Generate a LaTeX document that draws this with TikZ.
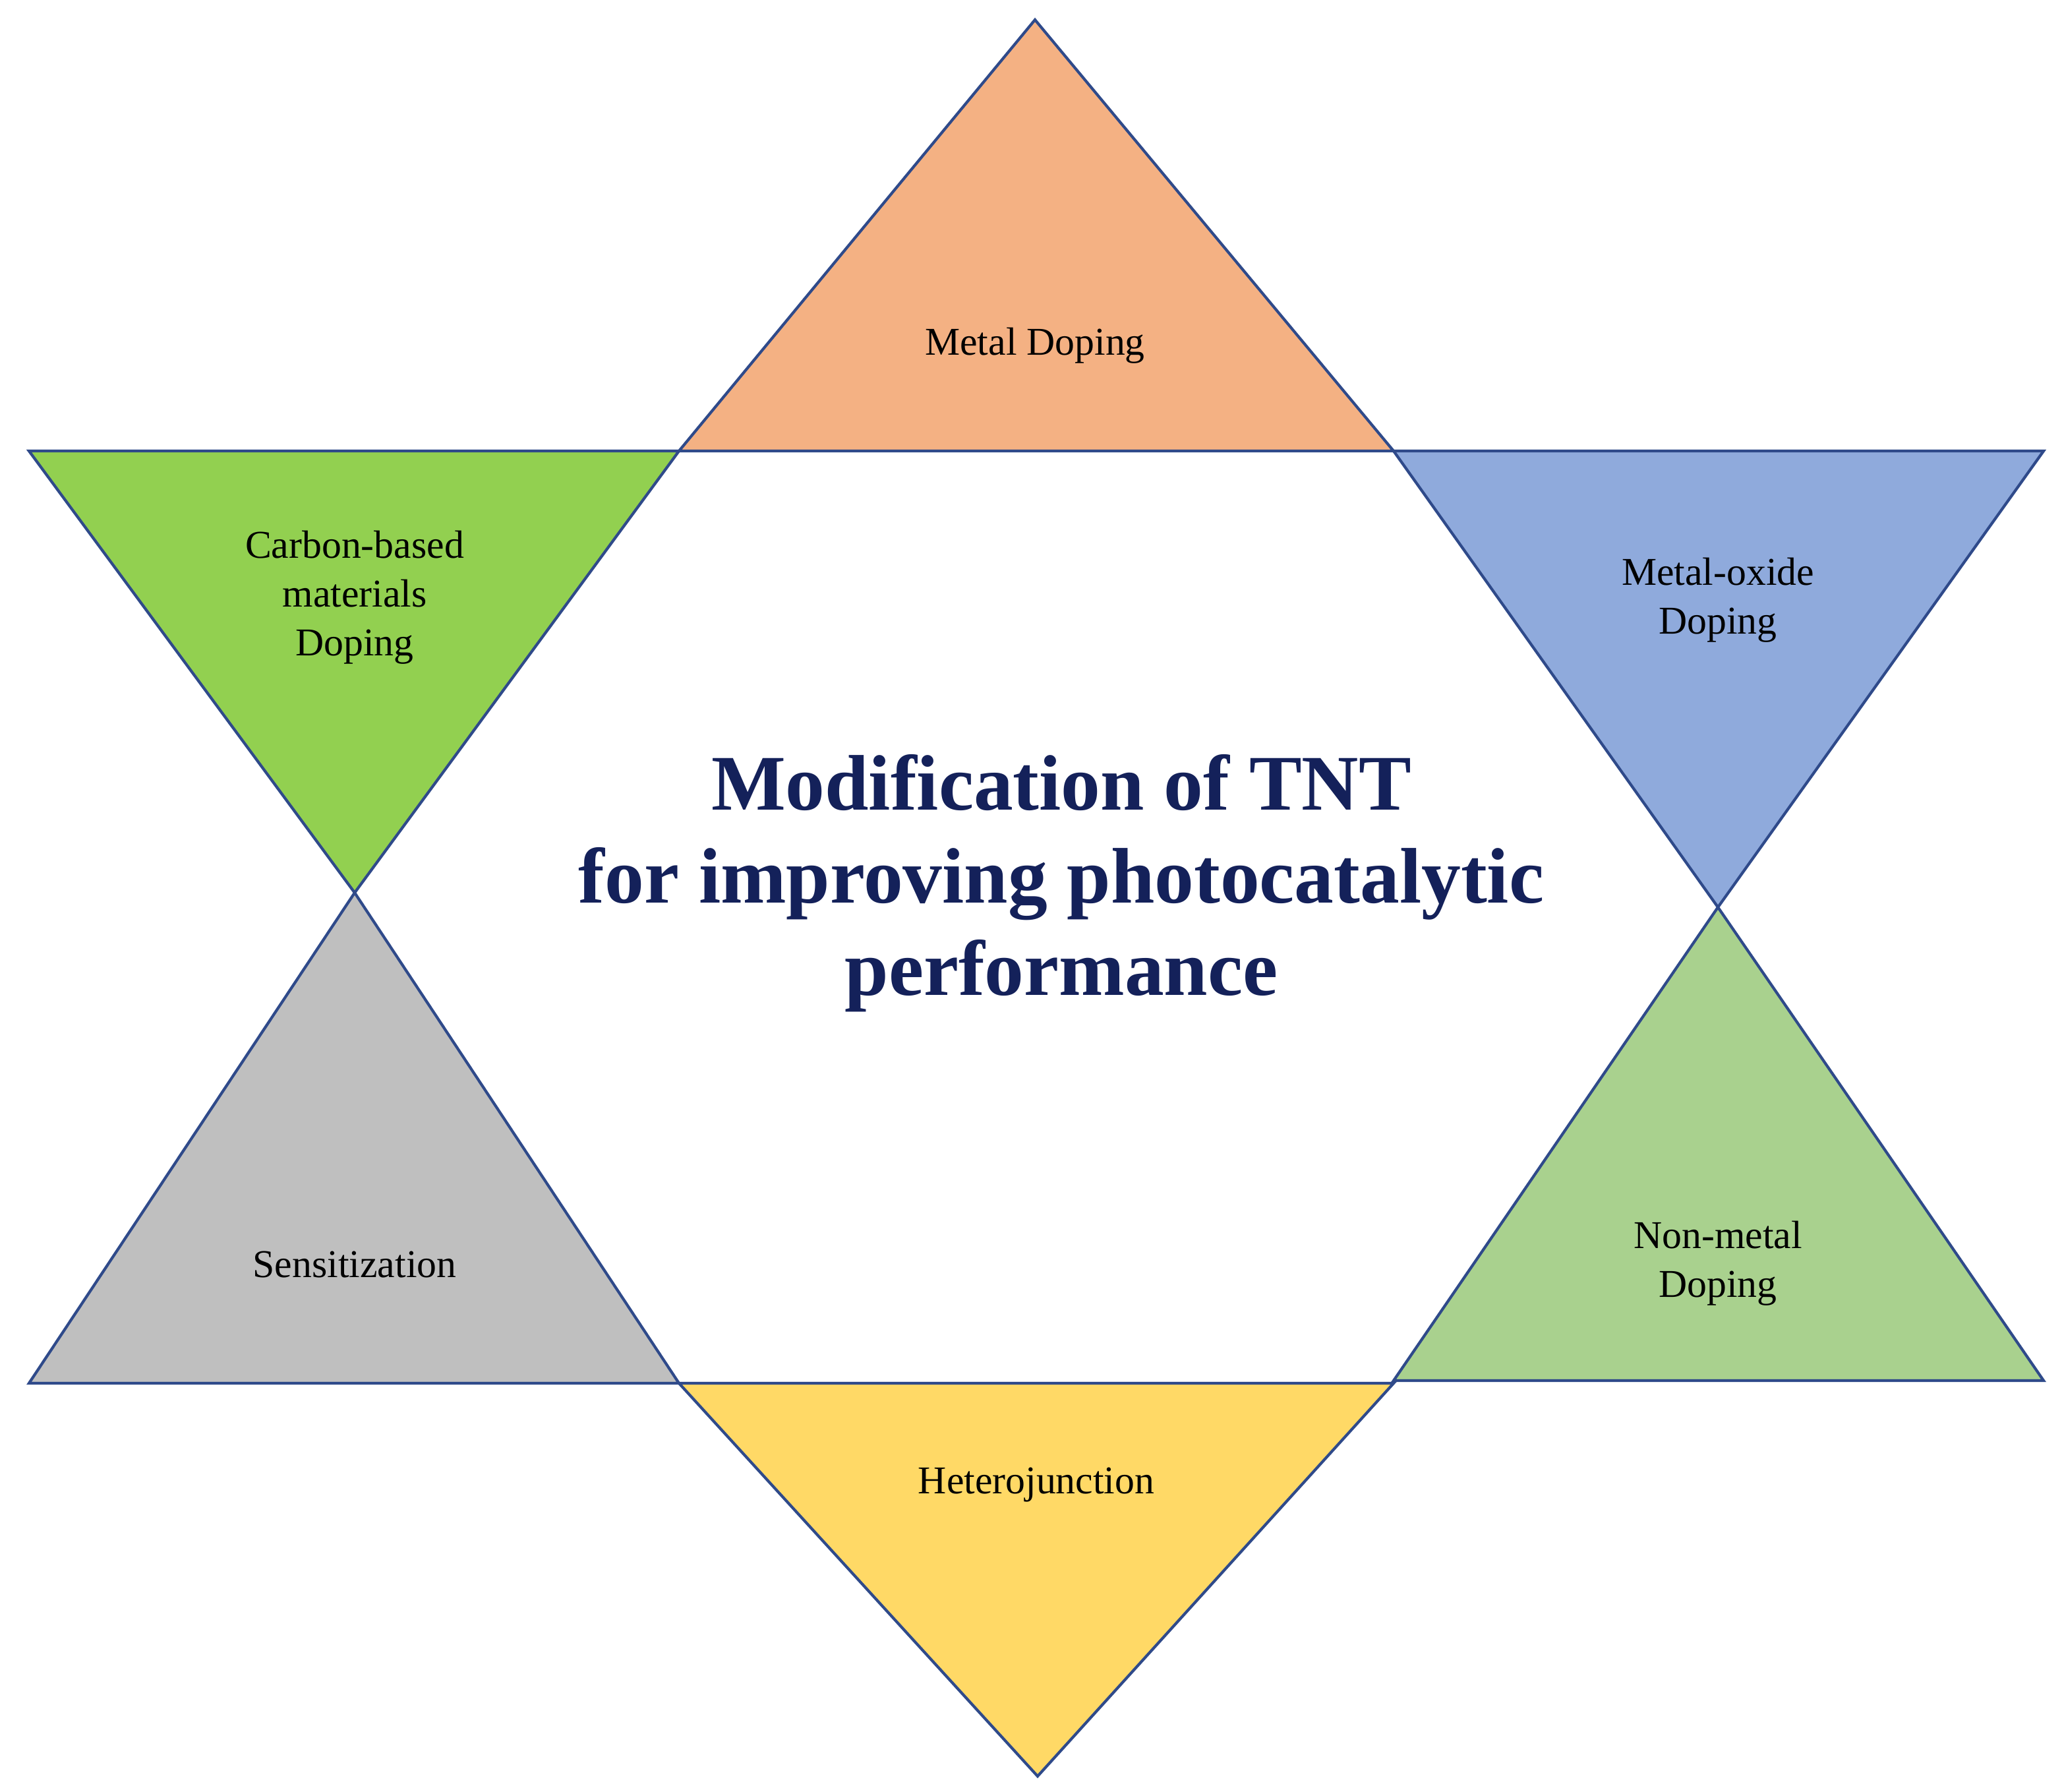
\documentclass[tikz,border=0pt]{standalone}
\usepackage{fontspec}
\setmainfont{Liberation Serif}
\begin{document}
\begin{tikzpicture}[x=0.02cm,y=-0.02cm,
  tri/.style={draw=edge,line width=1.2pt,line join=miter},
  lab/.style={font=\fontsize{17}{21}\selectfont,align=center,text=black},
  ttl/.style={font=\fontsize{34}{40}\selectfont\bfseries,align=center,text=title}]
\definecolor{edge}{HTML}{2F4A8A}
\definecolor{title}{HTML}{14215A}
\definecolor{c1}{HTML}{F4B183}
\definecolor{c2}{HTML}{92D050}
\definecolor{c3}{HTML}{8FAADC}
\definecolor{c4}{HTML}{BFBFBF}
\definecolor{c5}{HTML}{A9D18E}
\definecolor{c6}{HTML}{FFD966}
\useasboundingbox (0,0) rectangle (1565.5,1358.5);
\fill[white] (0,0) rectangle (1565.5,1358.5);
\draw[tri,fill=c1] (785,15) -- (515,342) -- (1057,342) -- cycle;
\draw[tri,fill=c2] (22,342) -- (515,342) -- (269,677) -- cycle;
\draw[tri,fill=c3] (1057,342) -- (1550,342) -- (1303,688) -- cycle;
\draw[tri,fill=c4] (269,677) -- (22,1049) -- (515,1049) -- cycle;
\draw[tri,fill=c5] (1303,688) -- (1057,1047) -- (1550,1047) -- cycle;
\draw[tri,fill=c6] (515,1049) -- (1057,1049) -- (787,1347) -- cycle;
\node[lab] (md) at (785,262) {Metal Doping};
\node[lab] (cb) at (269,453) {Carbon-based\\materials\\Doping};
\node[lab] (mo) at (1303,455) {Metal-oxide\\Doping};
\node[lab] (se) at (269,959) {Sensitization};
\node[lab] (nm) at (1303,958) {Non-metal\\Doping};
\node[lab] (hj) at (786,1126) {Heterojunction};
\node[ttl] (t) at (805,670) {Modification of TNT\\for improving photocatalytic\\performance};
\end{tikzpicture}
\end{document}
